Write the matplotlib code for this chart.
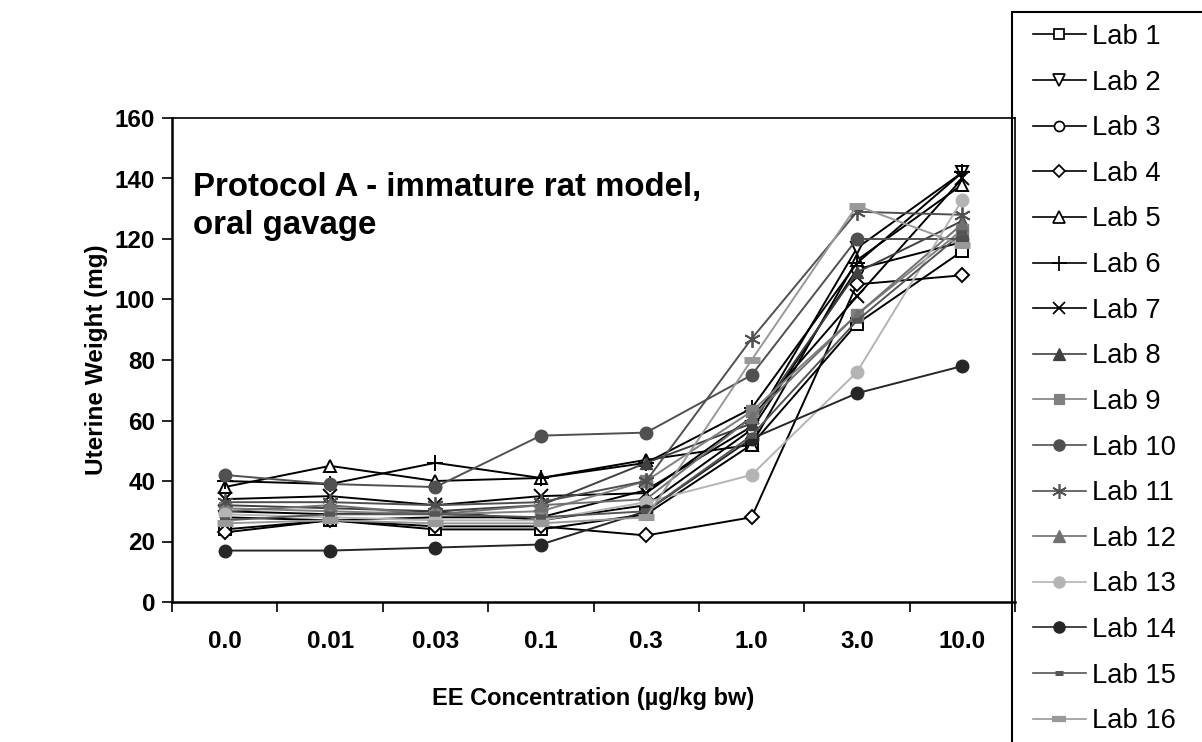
import numpy as np
import matplotlib
matplotlib.use("Agg")
import matplotlib.pyplot as plt
from matplotlib.lines import Line2D
from matplotlib.patches import Rectangle

plt.rcParams["font.family"] = ["Liberation Sans", "DejaVu Sans"]

# Chart data
concentrations = ["0.0", "0.01", "0.03", "0.1", "0.3", "1.0", "3.0", "10.0"]

lab_names = ["Lab %d" % i for i in range(1, 17)]

lab1 = [24, 27, 24, 24, 29, 52, 92, 116]
lab2 = [28, 27, 28, 28, 37, 58, 117, 142]
lab3 = [30, 29, 30, 27, 32, 57, 110, 119]
lab4 = [23, 27, 25, 25, 22, 28, 105, 108]
lab5 = [38, 45, 40, 41, 47, 52, 113, 138]
lab6 = [40, 39, 46, 41, 46, 64, 112, 142]
lab7 = [34, 35, 32, 35, 36, 61, 101, 140]
lab8 = [32, 31, 30, 32, 46, 59, 109, 126]
lab9 = [31, 30, 29, 30, 40, 63, 95, 123]
lab10 = [42, 39, 38, 55, 56, 75, 120, 120]
lab11 = [33, 33, 32, 33, 40, 87, 129, 128]
lab12 = [30, 32, 29, 32, 34, 61, 95, 125]
lab13 = [29, 28, 27, 27, 33, 42, 76, 133]
lab14 = [17, 17, 18, 19, 30, 54, 69, 78]
lab15 = [27, 29, 29, 28, 30, 55, 93, 122]
lab16 = [26, 27, 26, 26, 28, 80, 131, 118]

series = [lab1, lab2, lab3, lab4, lab5, lab6, lab7, lab8,
          lab9, lab10, lab11, lab12, lab13, lab14, lab15, lab16]

# Marker styles: (marker, line colour, marker face, marker size, edge width)
styles = [
    ("s", "black", "white", 8, 1.4),
    ("v", "black", "white", 9, 1.4),
    ("o", "black", "white", 8, 1.4),
    ("D", "black", "white", 7, 1.4),
    ("^", "black", "white", 9, 1.4),
    ("+", "black", "black", 12, 1.4),
    ("x", "black", "black", 10, 1.4),
    ("^", "#404040", "#404040", 9, 1.0),
    ("s", "#808080", "#808080", 8, 1.0),
    ("o", "#505050", "#505050", 9, 1.0),
    ((6, 2, 0), "#505050", "#505050", 12, 1.3),
    ("^", "#707070", "#707070", 9, 1.0),
    ("o", "#b4b4b4", "#b4b4b4", 9, 1.0),
    ("o", "#262626", "#262626", 9, 1.0),
    ("_", "#555555", "#555555", 7, 4.0),
    ("_", "#999999", "#999999", 11, 5.0),
]

fig = plt.figure(figsize=(12.02, 7.42), dpi=100)
ax = fig.add_axes([172 / 1202, 140 / 742, 843 / 1202, 484 / 742])

x = np.arange(len(concentrations))
handles = []
for name, vals, (mk, col, face, ms, mew) in zip(lab_names, series, styles):
    ax.plot(x, vals, color=col, lw=1.4, marker=mk, markersize=ms,
            markerfacecolor=face, markeredgecolor=col, markeredgewidth=mew)
    handles.append(Line2D([], [], color=col, lw=1.2, marker=mk,
                          markersize=ms * 0.9, markerfacecolor=face,
                          markeredgecolor=col, markeredgewidth=mew * 0.9))

ax.set_xlim(-0.5, len(concentrations) - 0.5)
ax.set_ylim(0, 160)
ax.set_yticks(np.arange(0, 161, 20))
ax.set_xticks(np.arange(-0.5, len(concentrations), 1))
ax.set_xticklabels([])
ax.set_xticks(x, minor=True)
ax.set_xticklabels(concentrations, minor=True)
ax.tick_params(axis="x", which="major", direction="out", length=7, width=1.2)
ax.tick_params(axis="x", which="minor", length=0, pad=20)
ax.tick_params(axis="y", direction="out", length=7, width=1.2, pad=5)
for lab in ax.get_xticklabels(minor=True) + ax.get_yticklabels():
    lab.set_fontsize(17.5)
    lab.set_fontweight("bold")

for s in ax.spines.values():
    s.set_linewidth(1.2)
ax.spines["left"].set_linewidth(1.8)
ax.spines["bottom"].set_linewidth(1.8)

ax.set_xlabel("EE Concentration (\u00b5g/kg bw)", fontsize=17,
              fontweight="bold", va="center")
ax.set_ylabel("Uterine Weight (mg)", fontsize=17.5, fontweight="bold",
              va="center")
ax.xaxis.set_label_coords(0.5, -97 / 484)
ax.yaxis.set_label_coords(-76 / 843, 0.5)

ax.text(0.025, 0.888, "Protocol A - immature rat model,\noral gavage",
        transform=ax.transAxes, ha="left", va="top", fontsize=23.8,
        fontweight="bold", linespacing=1.3)

# legend frame runs off the right and bottom edge of the figure
fig.patches.append(Rectangle((1012 / 1202, -0.05), 0.3, 1 - 12 / 742 + 0.05,
                             transform=fig.transFigure, fill=False,
                             edgecolor="black", lw=1.5))
fig.legend(handles, lab_names, loc="upper left",
           bbox_to_anchor=(1033 / 1202, 1 - 24 / 742),
           fontsize=19.7, frameon=False, handlelength=1.93, handletextpad=0.22,
           labelspacing=0.717, borderpad=0, borderaxespad=0)

fig.savefig("out.png", dpi=100)
